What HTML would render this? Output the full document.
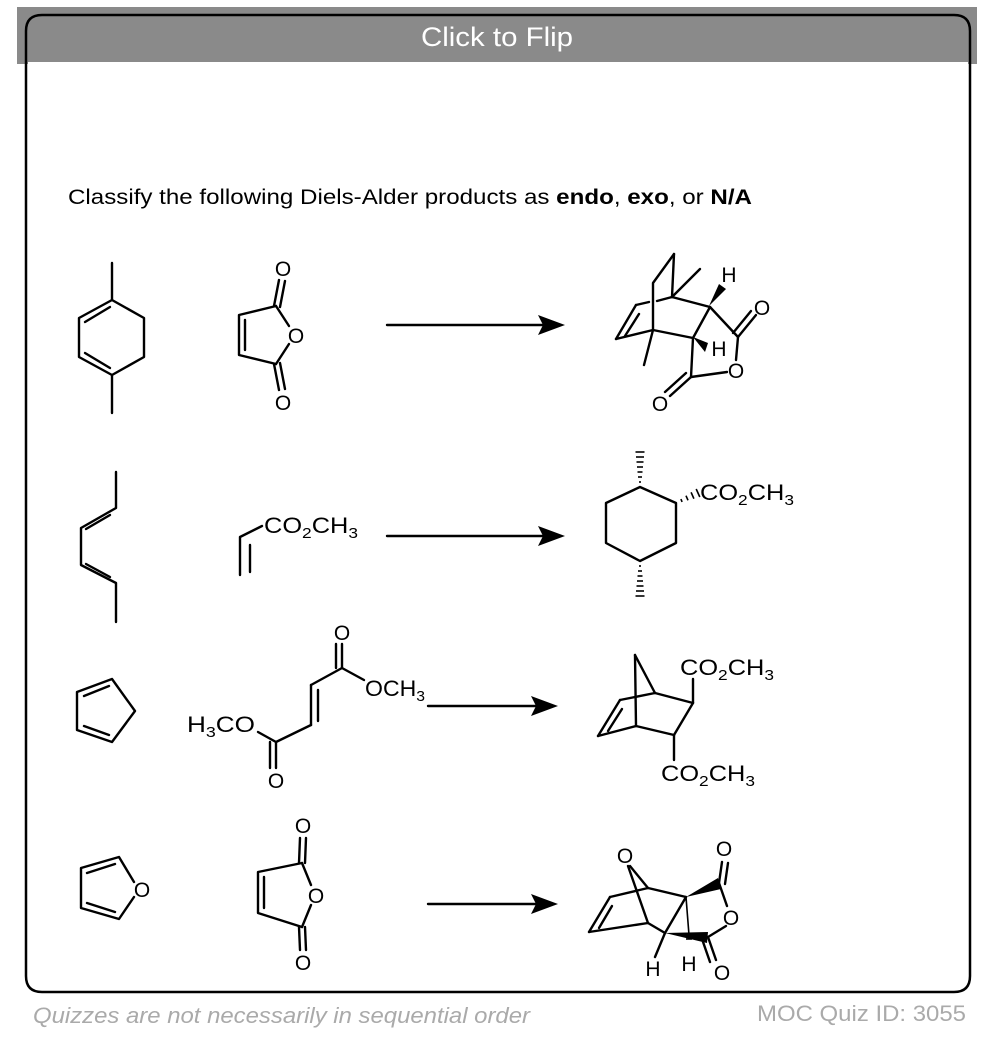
<!DOCTYPE html>
<html><head><meta charset="utf-8"><style>
html,body{margin:0;padding:0;background:#fff;}
body{width:990px;height:1040px;position:relative;overflow:hidden;font-family:"Liberation Sans",sans-serif;}
</style></head><body>
<svg width="990" height="1040" viewBox="0 0 990 1040" xmlns="http://www.w3.org/2000/svg" style="position:absolute;left:0;top:0">
<rect x="0" y="0" width="990" height="1040" fill="#fff"/>
<rect x="17" y="7" width="960" height="57" fill="#8a8a8a"/>
<path d="M26,64 L26,31 Q26,15 42,15 L954,15 Q970,15 970,31 L970,64" fill="none" stroke="#000" stroke-width="2.5"/>
<path d="M26,64 L26,976 Q26,992 42,992 L954,992 Q970,992 970,976 L970,64" fill="#fff" stroke="#000" stroke-width="2.5"/>
<rect x="28" y="62" width="940" height="3" fill="#fff"/>
<text x="497" y="46" text-anchor="middle" fill="#fff" font-size="27" textLength="152" lengthAdjust="spacingAndGlyphs" font-family="Liberation Sans, sans-serif">Click to Flip</text>
<text x="68" y="204" font-size="21" fill="#000" textLength="684" lengthAdjust="spacingAndGlyphs" font-family="Liberation Sans, sans-serif">Classify the following Diels-Alder products as <tspan font-weight="bold">endo</tspan>, <tspan font-weight="bold">exo</tspan>, or <tspan font-weight="bold">N/A</tspan></text>
<text x="33" y="1023" font-size="22" font-style="italic" fill="#aaa" textLength="497" lengthAdjust="spacingAndGlyphs" font-family="Liberation Sans, sans-serif">Quizzes are not necessarily in sequential order</text>
<text x="757" y="1021" font-size="22" fill="#aaa" textLength="209" lengthAdjust="spacingAndGlyphs" font-family="Liberation Sans, sans-serif">MOC Quiz ID: 3055</text>

<g stroke="#000" stroke-width="2.4" fill="none" stroke-linecap="round" stroke-linejoin="round">
<polyline points="112,263 112,300 144,318 144,357 112,375 112,413"/>
<polyline points="112,300 79,318 79,357 112,375"/>
<line x1="85" y1="322" x2="110" y2="307"/>
<line x1="85" y1="353" x2="110" y2="368"/>
<polyline points="276,306 239,315 239,355 276,364"/>
<line x1="245" y1="320" x2="245" y2="350"/>
<line x1="276" y1="306" x2="289" y2="326"/>
<line x1="276" y1="364" x2="289" y2="344"/>
<line x1="274" y1="306" x2="279" y2="280"/><line x1="280" y1="307" x2="285" y2="281"/>
<line x1="274" y1="364" x2="279" y2="390"/><line x1="280" y1="363" x2="285" y2="389"/>
<line x1="387" y1="325" x2="545" y2="325"/>
<polyline points="674,254 653,283 653,330"/>
<line x1="674" y1="254" x2="672" y2="297"/>
<line x1="672" y1="297" x2="700" y2="269"/>
<line x1="672" y1="297" x2="657" y2="301"/>
<line x1="649" y1="302" x2="636" y2="305"/>
<line x1="636" y1="305" x2="616" y2="339"/>
<line x1="639" y1="314" x2="625" y2="336"/>
<line x1="616" y1="339" x2="653" y2="330"/>
<line x1="653" y1="330" x2="644" y2="365"/>
<line x1="653" y1="330" x2="693" y2="338"/>
<line x1="672" y1="297" x2="710" y2="307"/>
<line x1="710" y1="307" x2="693" y2="338"/>
<line x1="710" y1="307" x2="738" y2="337"/>
<line x1="738" y1="337" x2="756" y2="315"/><line x1="733" y1="333" x2="751" y2="311"/>
<line x1="738" y1="337" x2="736" y2="360"/>
<line x1="727" y1="372" x2="691" y2="377"/>
<line x1="693" y1="338" x2="691" y2="377"/>
<line x1="691" y1="377" x2="670" y2="396"/><line x1="686" y1="373" x2="665" y2="392"/>
<polyline points="116,472 116,508 81,528 81,565 116,583 116,622"/>
<line x1="110" y1="515" x2="86" y2="529"/>
<line x1="86" y1="564" x2="110" y2="577"/>
<polyline points="240,575 240,537 262,526"/>
<line x1="250" y1="572" x2="250" y2="545"/>
<line x1="387" y1="536" x2="545" y2="536"/>
<polygon points="640,487 676,503 676,543 640,561 606,543 606,503"/>
<polygon points="112,679 135,711 112,742 77,730 77,692"/>
<line x1="84" y1="696" x2="109" y2="686"/>
<line x1="84" y1="726" x2="109" y2="735"/>
<line x1="342" y1="668" x2="342" y2="644"/><line x1="336" y1="668" x2="336" y2="644"/>
<line x1="342" y1="668" x2="364" y2="680"/>
<line x1="342" y1="668" x2="311" y2="685"/>
<line x1="311" y1="685" x2="311" y2="725"/><line x1="318" y1="690" x2="318" y2="721"/>
<line x1="311" y1="725" x2="276" y2="742"/>
<line x1="276" y1="742" x2="258" y2="732"/>
<line x1="276" y1="742" x2="276" y2="768"/><line x1="270" y1="742" x2="270" y2="768"/>
<line x1="428" y1="706" x2="538" y2="706"/>
<line x1="635" y1="655" x2="655" y2="693"/>
<line x1="635" y1="655" x2="636" y2="726"/>
<line x1="655" y1="693" x2="693" y2="703"/>
<line x1="693" y1="703" x2="674" y2="735"/>
<line x1="674" y1="735" x2="636" y2="726"/>
<line x1="655" y1="693" x2="620" y2="700"/>
<line x1="620" y1="700" x2="598" y2="736"/>
<line x1="622" y1="709" x2="608" y2="731"/>
<line x1="598" y1="736" x2="636" y2="726"/>
<line x1="693" y1="703" x2="693" y2="679"/>
<line x1="674" y1="735" x2="674" y2="760"/>
<polyline points="134,882 119,857 81,868 81,908 119,919 134,897"/>
<line x1="87" y1="873" x2="115" y2="864"/>
<line x1="87" y1="903" x2="115" y2="912"/>
<polyline points="302,863 258,872 258,913 302,927"/>
<line x1="264" y1="877" x2="264" y2="908"/>
<line x1="302" y1="863" x2="311" y2="885"/>
<line x1="302" y1="927" x2="311" y2="905"/>
<line x1="299" y1="863" x2="300" y2="838"/><line x1="305" y1="863" x2="306" y2="838"/>
<line x1="299" y1="927" x2="300" y2="950"/><line x1="305" y1="927" x2="306" y2="950"/>
<line x1="428" y1="904" x2="538" y2="904"/>
<line x1="630" y1="866" x2="648" y2="888"/>
<line x1="628" y1="866" x2="648" y2="923"/>
<line x1="648" y1="888" x2="686" y2="897"/>
<line x1="686" y1="897" x2="665" y2="933"/>
<line x1="665" y1="933" x2="648" y2="923"/>
<line x1="648" y1="888" x2="610" y2="897"/>
<line x1="610" y1="897" x2="589" y2="932"/>
<line x1="612" y1="906" x2="599" y2="928"/>
<line x1="589" y1="932" x2="648" y2="923"/>
<line x1="665" y1="933" x2="655" y2="957"/>
<line x1="686" y1="897" x2="689" y2="935" stroke-width="1.6"/>
<line x1="719" y1="883" x2="722" y2="862"/><line x1="725" y1="884" x2="728" y2="863"/>
<line x1="719" y1="883" x2="727" y2="906"/>
<line x1="726" y1="926" x2="708" y2="937"/>
<line x1="708" y1="937" x2="716" y2="960"/><line x1="702" y1="939" x2="710" y2="962"/>
</g>
<g fill="#000" stroke="none">
<polygon points="565,325 538,315 543,325 538,335"/>
<polygon points="565,536 538,526 543,536 538,546"/>
<polygon points="558,706 531,696 536,706 531,716"/>
<polygon points="558,904 531,894 536,904 531,914"/>
<polygon points="709,306 719,284 726,289"/>
<polygon points="693,337 708,343 705,352"/>
<polygon points="686,897 718,878 721,889"/>
<polygon points="665,933 708,932 707,943"/>
</g>
<g stroke="#000" stroke-width="1.6">
<line x1="639" y1="482" x2="641" y2="482"/><line x1="638" y1="477" x2="642" y2="477"/><line x1="637.5" y1="472" x2="642.5" y2="472"/><line x1="637" y1="467" x2="643" y2="467"/><line x1="636.5" y1="462" x2="643.5" y2="462"/><line x1="636" y1="457" x2="644" y2="457"/><line x1="635.5" y1="452" x2="644.5" y2="452"/>
<line x1="639" y1="566" x2="641" y2="566"/><line x1="638" y1="571" x2="642" y2="571"/><line x1="637.5" y1="576" x2="642.5" y2="576"/><line x1="637" y1="581" x2="643" y2="581"/><line x1="636.5" y1="586" x2="643.5" y2="586"/><line x1="636" y1="591" x2="644" y2="591"/><line x1="635.5" y1="596" x2="644.5" y2="596"/>
<line x1="680.9" y1="499.1" x2="682.1" y2="501.9"/><line x1="686" y1="495.7" x2="688" y2="500.3"/><line x1="691.1" y1="492.3" x2="693.9" y2="498.7"/><line x1="696.2" y1="489" x2="699.8" y2="497"/>
<line x1="686" y1="939" x2="692" y2="939"/>
</g>
<g font-family="Liberation Sans, sans-serif" font-size="21" fill="#000" text-anchor="middle">
<text x="283" y="276">O</text>
<text x="296" y="343">O</text>
<text x="283" y="410">O</text>
<text x="729" y="282">H</text>
<text x="719" y="356">H</text>
<text x="762" y="315">O</text>
<text x="736" y="378">O</text>
<text x="660" y="411">O</text>
<text x="342" y="640">O</text>
<text x="276" y="788">O</text>
<text x="303" y="833">O</text>
<text x="316" y="903">O</text>
<text x="303" y="970">O</text>
<text x="142" y="897">O</text>
<text x="625" y="863">O</text>
<text x="724" y="856">O</text>
<text x="731" y="925">O</text>
<text x="722" y="980">O</text>
<text x="653" y="976">H</text>
<text x="689" y="971">H</text>
</g>
<g font-family="Liberation Sans, sans-serif" font-size="22" fill="#000">
<text x="264" y="533" textLength="94" lengthAdjust="spacingAndGlyphs">CO<tspan font-size="15" dy="5">2</tspan><tspan dy="-5">CH</tspan><tspan font-size="15" dy="5">3</tspan></text>
<text x="700" y="500" textLength="94" lengthAdjust="spacingAndGlyphs">CO<tspan font-size="15" dy="5">2</tspan><tspan dy="-5">CH</tspan><tspan font-size="15" dy="5">3</tspan></text>
<text x="365" y="696" textLength="60" lengthAdjust="spacingAndGlyphs">OCH<tspan font-size="15" dy="5">3</tspan></text>
<text x="187" y="732" textLength="68" lengthAdjust="spacingAndGlyphs">H<tspan font-size="15" dy="5">3</tspan><tspan dy="-5">CO</tspan></text>
<text x="680" y="675" textLength="94" lengthAdjust="spacingAndGlyphs">CO<tspan font-size="15" dy="5">2</tspan><tspan dy="-5">CH</tspan><tspan font-size="15" dy="5">3</tspan></text>
<text x="661" y="781" textLength="94" lengthAdjust="spacingAndGlyphs">CO<tspan font-size="15" dy="5">2</tspan><tspan dy="-5">CH</tspan><tspan font-size="15" dy="5">3</tspan></text>
</g>
</svg>
</body></html>
